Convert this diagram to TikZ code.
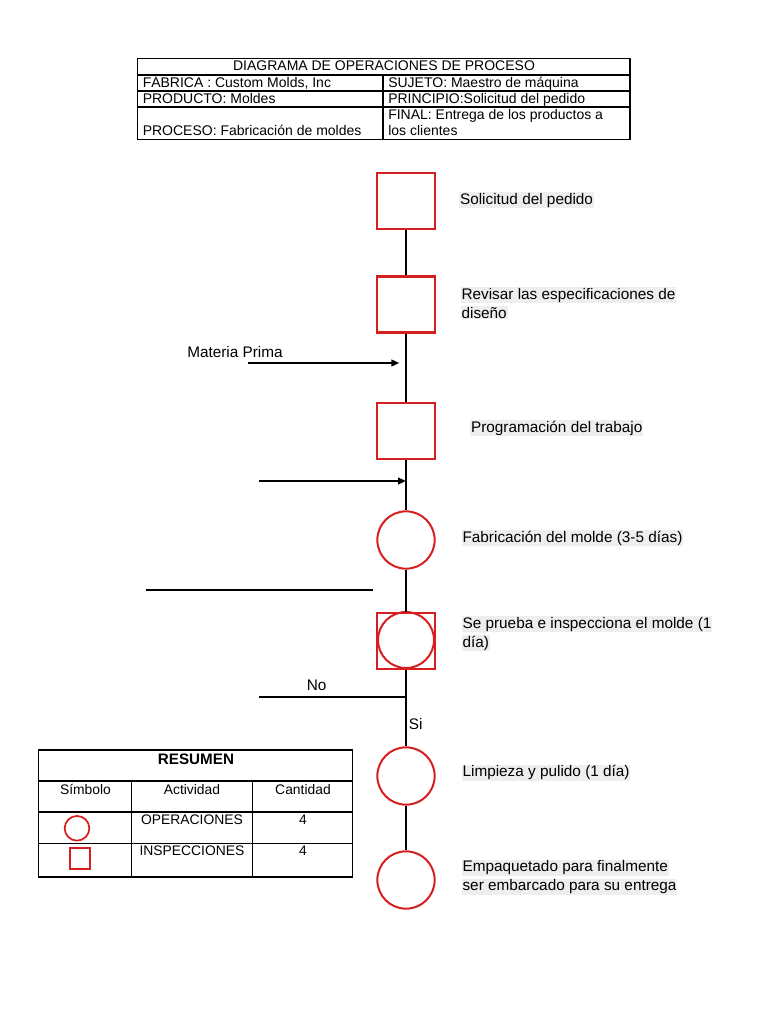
\documentclass[tikz,border=0pt]{standalone}
\usepackage{fontspec}
\setmainfont{Liberation Sans}
\usetikzlibrary{arrows.meta}
\definecolor{rojo}{RGB}{214,32,32}
\definecolor{resalte}{RGB}{238,238,238}
\newcommand{\resalta}[1]{{\setlength{\fboxsep}{0.6pt}\colorbox{resalte}{#1}}}
\begin{document}
\begin{tikzpicture}[x=0.75pt,y=-0.75pt,
  cuadro/.style={draw=rojo,line width=1.6pt,minimum width=43.5pt,minimum height=42pt,inner sep=0pt},
  circulo/.style={draw=rojo,line width=1.5pt,circle,minimum size=43pt,inner sep=0pt},
  etiqueta/.style={anchor=base west,inner sep=0pt,align=left,font=\fontsize{11.5}{14.25}\selectfont},
  celda/.style={anchor=base west,inner sep=0pt,font=\fontsize{10.5}{12}\selectfont},
  resumen/.style={anchor=base,inner sep=0pt,font=\fontsize{10.4}{12}\selectfont},
  marco/.style={line width=0.8pt},
  linea/.style={line width=1.5pt},
  lineagruesa/.style={line width=2.2pt},
  flecha/.style={line width=1.8pt,-{Triangle[length=6pt,width=5pt]}}]
  \useasboundingbox (0,0) rectangle (768,1024);
  \draw[marco] (137.5,58.5) rectangle (630,139.5);
  \draw[marco] (137.5,75) -- (630,75);
  \draw[marco] (137.5,91) -- (630,91);
  \draw[marco] (137.5,107) -- (630,107);
  \draw[marco] (383,75) -- (383,139.5);
  \node[celda,anchor=base] (titulo) at (384,70.7) {DIAGRAMA DE OPERACIONES DE PROCESO};
  \node[celda] (fabrica) at (142.5,87.5) {FÁBRICA : Custom Molds, Inc};
  \node[celda] (sujeto) at (388,87.5) {SUJETO: Maestro de máquina};
  \node[celda] (producto) at (142.5,103.3) {PRODUCTO: Moldes};
  \node[celda] (principio) at (388,103.3) {PRINCIPIO:Solicitud del pedido};
  \node[celda] (proceso) at (142.5,135.3) {PROCESO: Fabricación de moldes};
  \node[celda] (final) at (388,119.3) {FINAL: Entrega de los productos a};
  \node[celda] (clientes) at (388,135.3) {los clientes};
  \node[cuadro] (solicitud) at (406,201) {};
  \node[cuadro] (revisar) at (406,304.5) {};
  \node[cuadro] (programa) at (406,431) {};
  \node[circulo] (molde) at (406,540) {};
  \node[cuadro,minimum width=44pt] (prueba) at (406,641) {};
  \node[circulo,minimum size=42pt] (pruebacirc) at (406,640) {};
  \node[circulo] (limpieza) at (406,776) {};
  \node[circulo] (empaque) at (406,880) {};
  \draw[lineagruesa] (solicitud) -- (revisar);
  \draw[linea] (revisar) -- (programa);
  \draw[linea] (programa) -- (molde);
  \draw[linea] (molde) -- (prueba);
  \draw[linea] (prueba) -- (limpieza);
  \draw[lineagruesa] (limpieza) -- (empaque);
  \coordinate (materia) at (248,363);
  \draw[flecha] (materia) -- ([xshift=-5pt]materia -| revisar);
  \node[etiqueta] (tmateria) at (187,357) {Materia Prima};
  \coordinate (entrada) at (259,481);
  \draw[flecha] (entrada) -- (entrada -| programa);
  \coordinate (sueltoa) at (146,590);
  \coordinate (sueltob) at (373,590);
  \draw[linea] (sueltoa) -- (sueltob);
  \coordinate (rechazo) at (259,697);
  \draw[line width=1.8pt] (rechazo) -- (rechazo -| prueba);
  \node[etiqueta] (tno) at (306.5,690) {No};
  \node[etiqueta] (tsi) at (408.5,729) {Si};
  \node[etiqueta] (tsolicitud) at (459,204) {\resalta{Solicitud del pedido}};
  \node[etiqueta] (trevisar) at (460.5,318) {\resalta{Revisar las especificaciones de}\\\resalta{diseño}};
  \node[etiqueta] (tprograma) at (470,432) {\resalta{Programación del trabajo}};
  \node[etiqueta] (tmolde) at (461.5,542) {\resalta{Fabricación del molde (3-5 días)}};
  \node[etiqueta] (tprueba) at (461.5,647.3) {\resalta{Se prueba e inspecciona el molde (1}\\\resalta{día)}};
  \node[etiqueta] (tlimpieza) at (461.5,776.7) {\resalta{Limpieza y pulido (1 día)}};
  \node[etiqueta] (tempaque) at (461.5,890.7) {\resalta{Empaquetado para finalmente}\\\resalta{ser embarcado para su entrega}};
  \draw[marco] (38.5,750) rectangle (352.5,877);
  \draw[marco] (38.5,781) -- (352.5,781);
  \draw[marco] (38.5,812) -- (352.5,812);
  \draw[marco] (38.5,843.5) -- (352.5,843.5);
  \draw[marco] (131.5,781) -- (131.5,877);
  \draw[marco] (252.5,781) -- (252.5,877);
  \node[resumen,font=\fontsize{11.4}{12}\selectfont\bfseries] (tresumen) at (196,764) {RESUMEN};
  \node[resumen] (tsimbolo) at (85.5,794) {Símbolo};
  \node[resumen] (tactividad) at (192,794) {Actividad};
  \node[resumen] (tcantidad) at (303,794) {Cantidad};
  \node[resumen] (toperaciones) at (192,824) {OPERACIONES};
  \node[resumen] (nop) at (303,824) {4};
  \node[resumen] (tinspecciones) at (192,855) {INSPECCIONES};
  \node[resumen] (nins) at (303,855) {4};
  \node[circulo,minimum size=18.5pt,line width=1.3pt] (iconocirc) at (77,828.3) {};
  \node[cuadro,minimum width=15pt,minimum height=16pt,line width=1.3pt] (iconocuad) at (80,858.5) {};
\end{tikzpicture}
\end{document}
